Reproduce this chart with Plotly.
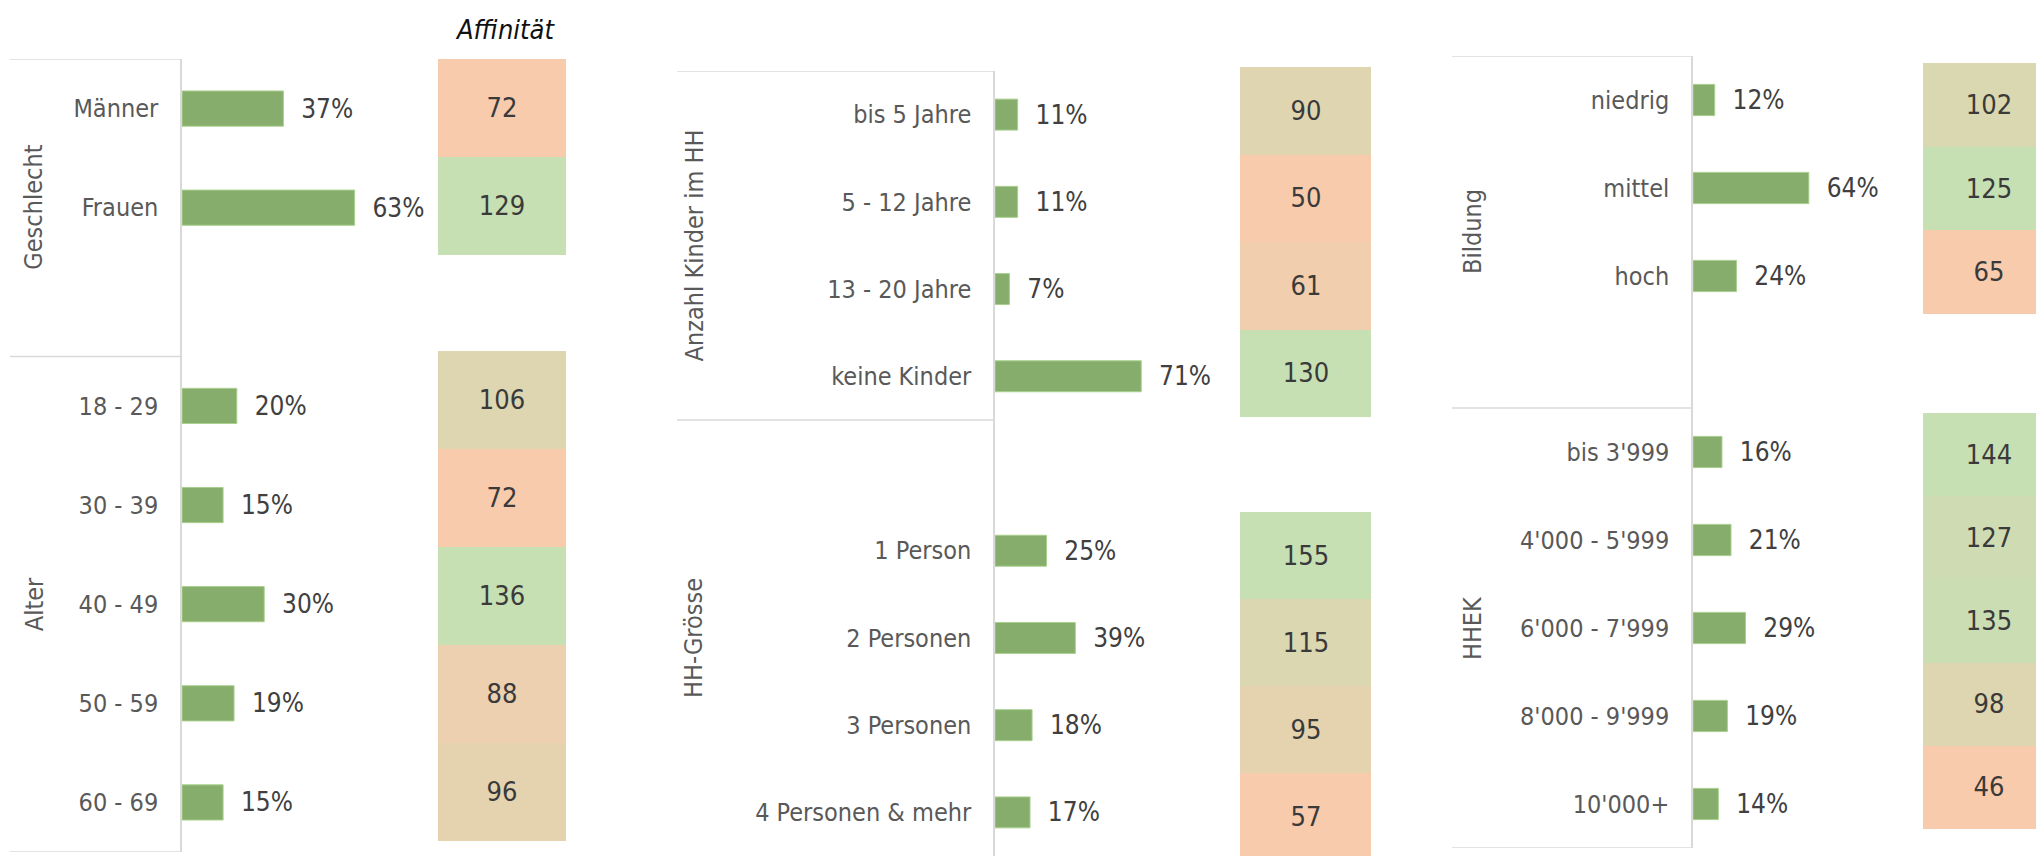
import plotly.graph_objects as go

# --- data -------------------------------------------------------------------
p1_labels = ["Männer", "Frauen", "", "18 - 29", "30 - 39", "40 - 49", "50 - 59", "60 - 69"]
p1_share = [37, 63, None, 20, 15, 30, 19, 15]
geschlecht_aff = [72, 129]
alter_aff = [106, 72, 136, 88, 96]

p2_labels = ["bis 5 Jahre", "5 - 12 Jahre", "13 - 20 Jahre", "keine Kinder", "",
             "1 Person", "2 Personen", "3 Personen", "4 Personen & mehr"]
p2_share = [11, 11, 7, 71, None, 25, 39, 18, 17]
kinder_aff = [90, 50, 61, 130]
hhgroesse_aff = [155, 115, 95, 57]

p3_labels = ["niedrig", "mittel", "hoch", "", "bis 3'999", "4'000 - 5'999",
             "6'000 - 7'999", "8'000 - 9'999", "10'000+"]
p3_share = [12, 64, 24, None, 16, 21, 29, 19, 14]
bildung_aff = [102, 125, 65]
hhek_aff = [144, 127, 135, 98, 46]

group_titles = [["Geschlecht", "Alter"], ["Anzahl Kinder im HH", "HH-Grösse"], ["Bildung", "HHEK"]]
header = "Affinität"

# --- styling ----------------------------------------------------------------
W, H = 2036, 856
FONT = "DejaVu Sans Condensed, DejaVu Sans, sans-serif"
BAR = "#86AD6B"
BAR_EDGE = "#A9D08E"
SALMON = "#F8CBAD"
GREEN = "#C6E0B4"
LINE = "#D9D9D9"
LABEL = "#595959"
VALUE = "#404040"


def fx(px):
    return px / W


def fy(py):
    return 1 - py / H


# layout of each panel in pixels: bar axis start, px per %, bar area top/bottom,
# box left edge, group title x, group split index, heat cell x, heat blocks (top, bottom, cell height)
panels = [
    dict(labels=p1_labels, share=p1_share, heats=[geschlecht_aff, alter_aff],
         x0=182, ppp=2.74, xw=250, top=59, bottom=852, left=10, gx=34, split=2.5,
         hx=(438, 566), hcell=128,
         hy=[(59, 255, 98), (351, 841, 98)]),
    dict(labels=p2_labels, share=p2_share, heats=[kinder_aff, hhgroesse_aff],
         x0=995, ppp=2.06, xw=235, top=71, bottom=856, left=677, gx=694, split=3.5,
         hx=(1240, 1371), hcell=131,
         hy=[(67, 417, 87.5), (512, 856, 87)]),
    dict(labels=p3_labels, share=p3_share, heats=[bildung_aff, hhek_aff],
         x0=1693, ppp=1.81, xw=222, top=56, bottom=848, left=1452, gx=1472, split=3.5,
         hx=(1923, 2036), hcell=132,
         hy=[(63, 314, 83.7), (413, 829, 83.2)]),
]

fig = go.Figure()
layout = {}
shapes = []
annotations = []
ax = 1

for pi, p in enumerate(panels):
    n = len(p["labels"])
    ypos = list(range(n))
    xa, ya = f"x{ax}", f"y{ax}"
    xkey, ykey = f"xaxis{ax}" if ax > 1 else "xaxis", f"yaxis{ax}" if ax > 1 else "yaxis"
    bar_ya = ya
    fig.add_trace(go.Bar(
        x=p["share"], y=ypos, orientation="h", width=0.355,
        marker=dict(color=BAR, line=dict(color=BAR_EDGE, width=1)),
        text=["\u00a0\u00a0" + f"{v}%" if v is not None else "" for v in p["share"]],
        textposition="outside", cliponaxis=False, constraintext="none",
        textfont=dict(size=26, color=VALUE, family=FONT),
        xaxis=xa, yaxis=ya, hoverinfo="skip"))
    layout[xkey] = dict(domain=[fx(p["x0"]), fx(p["x0"] + p["xw"])],
                        range=[0, p["xw"] / p["ppp"]], visible=False,
                        anchor=ya, fixedrange=True)
    layout[ykey] = dict(domain=[fy(p["bottom"]), fy(p["top"])],
                        range=[n - 0.5, -0.5], tickmode="array",
                        tickvals=ypos, ticktext=p["labels"],
                        showline=True, linecolor=LINE, linewidth=1.5,
                        showgrid=False, zeroline=False, ticks="",
                        ticklabelstandoff=17,
                        tickfont=dict(size=25, color=LABEL, family=FONT),
                        anchor=xa, fixedrange=True)
    # group box lines (the bottom one only when it lies inside the picture)
    bounds = [-0.5, p["split"]] + ([n - 0.5] if p["bottom"] < H else [])
    for yb in bounds:
        shapes.append(dict(type="line", xref="paper", yref=bar_ya,
                           x0=fx(p["left"]), x1=fx(p["x0"]), y0=yb, y1=yb,
                           line=dict(color=LINE, width=1.5)))
    mids = [(-0.5 + p["split"]) / 2, (p["split"] + n - 0.5) / 2]
    for title, ym in zip(group_titles[pi], mids):
        annotations.append(dict(text=title, xref="paper", yref=bar_ya,
                                x=fx(p["gx"]), y=ym, textangle=-90,
                                xanchor="center", yanchor="middle",
                                showarrow=False,
                                font=dict(size=25, color=LABEL, family=FONT)))
    ax += 1

    # affinity heat blocks
    hx0, hx1 = p["hx"]
    for vals, (t, b, ch) in zip(p["heats"], p["hy"]):
        xa, ya = f"x{ax}", f"y{ax}"
        fig.add_trace(go.Heatmap(
            z=[[v] for v in vals], x=[0], y=list(range(len(vals))),
            colorscale=[[0, SALMON], [1, GREEN]], zmin=min(vals), zmax=max(vals),
            showscale=False, texttemplate="%{z}",
            textfont=dict(size=27, color="#3a3a3a", family=FONT),
            xaxis=xa, yaxis=ya, hoverinfo="skip"))
        layout[f"xaxis{ax}"] = dict(domain=[fx(hx0), fx(hx1)],
                                    range=[-0.5, -0.5 + (hx1 - hx0) / p["hcell"]],
                                    visible=False, anchor=ya, fixedrange=True)
        layout[f"yaxis{ax}"] = dict(domain=[fy(b), fy(t)],
                                    range=[-0.5 + (b - t) / ch, -0.5],
                                    visible=False, anchor=xa, fixedrange=True)
        ax += 1

annotations.append(dict(text=header, xref="paper", yref="paper", x=fx(505), y=fy(29),
                        xanchor="center", yanchor="middle", showarrow=False,
                        font=dict(size=27, color="#111111", family=FONT, style="italic")))

fig.update_layout(width=W, height=H, margin=dict(l=0, r=0, t=0, b=0),
                  paper_bgcolor="white", plot_bgcolor="rgba(0,0,0,0)",
                  showlegend=False, shapes=shapes, annotations=annotations,
                  font=dict(family=FONT), **layout)

fig.write_html("out.html", config={"displayModeBar": False},
               post_script="document.body.style.margin='0';")
